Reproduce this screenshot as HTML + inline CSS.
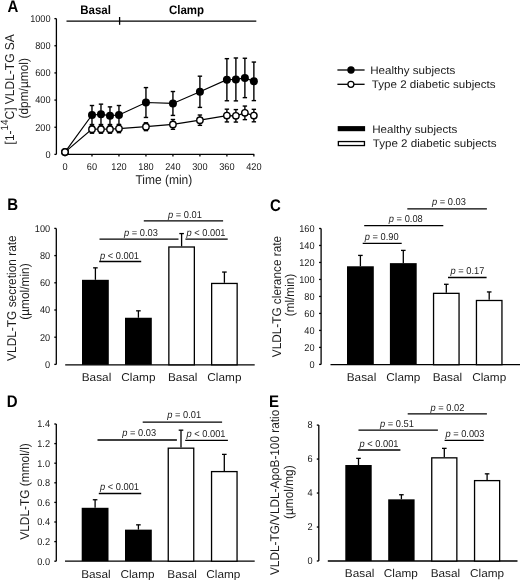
<!DOCTYPE html>
<html><head><meta charset="utf-8"><style>
html,body{margin:0;padding:0;background:#fff;}
body{width:520px;height:580px;overflow:hidden;}
svg{display:block;font-family:"Liberation Sans", sans-serif;text-rendering:geometricPrecision;}
</style></head><body>
<svg width="520" height="580" viewBox="0 0 520 580">
<defs><filter id="g" x="0" y="0" width="520" height="580" filterUnits="userSpaceOnUse"><feOffset dx="0" dy="0"/></filter></defs>
<g filter="url(#g)">
<rect width="520" height="580" fill="#fff"/>
<text transform="translate(7.60,11.60) scale(1,1.12)" font-size="15" text-anchor="start" font-weight="bold" font-style="normal" fill="#000" >A</text>
<line x1="66.50" y1="21.20" x2="256.30" y2="21.20" stroke="#000" stroke-width="1.3"/>
<line x1="119.60" y1="17.00" x2="119.60" y2="24.80" stroke="#000" stroke-width="1.3"/>
<text transform="translate(80.20,13.60) scale(1,1.07)" font-size="11.5" text-anchor="start" font-weight="bold" font-style="normal" fill="#000" >Basal</text>
<text transform="translate(168.90,13.60) scale(1,1.07)" font-size="11.5" text-anchor="start" font-weight="bold" font-style="normal" fill="#000" >Clamp</text>
<line x1="56.40" y1="18.60" x2="56.40" y2="154.40" stroke="#000" stroke-width="1.3"/>
<line x1="54.40" y1="154.40" x2="56.40" y2="154.40" stroke="#000" stroke-width="1.3"/>
<text transform="translate(50.60,157.71) scale(1,1.07)" font-size="9.2" text-anchor="end" font-weight="normal" font-style="normal" fill="#1a1a1a" >0</text>
<line x1="54.40" y1="127.24" x2="56.40" y2="127.24" stroke="#000" stroke-width="1.3"/>
<text transform="translate(50.60,130.55) scale(1,1.07)" font-size="9.2" text-anchor="end" font-weight="normal" font-style="normal" fill="#1a1a1a" >200</text>
<line x1="54.40" y1="100.08" x2="56.40" y2="100.08" stroke="#000" stroke-width="1.3"/>
<text transform="translate(50.60,103.39) scale(1,1.07)" font-size="9.2" text-anchor="end" font-weight="normal" font-style="normal" fill="#1a1a1a" >400</text>
<line x1="54.40" y1="72.92" x2="56.40" y2="72.92" stroke="#000" stroke-width="1.3"/>
<text transform="translate(50.60,76.23) scale(1,1.07)" font-size="9.2" text-anchor="end" font-weight="normal" font-style="normal" fill="#1a1a1a" >600</text>
<line x1="54.40" y1="45.76" x2="56.40" y2="45.76" stroke="#000" stroke-width="1.3"/>
<text transform="translate(50.60,49.07) scale(1,1.07)" font-size="9.2" text-anchor="end" font-weight="normal" font-style="normal" fill="#1a1a1a" >800</text>
<line x1="54.40" y1="18.60" x2="56.40" y2="18.60" stroke="#000" stroke-width="1.3"/>
<text transform="translate(50.60,21.91) scale(1,1.07)" font-size="9.2" text-anchor="end" font-weight="normal" font-style="normal" fill="#1a1a1a" >1000</text>
<line x1="64.70" y1="154.30" x2="254.20" y2="154.30" stroke="#000" stroke-width="1.3"/>
<line x1="65.00" y1="154.30" x2="65.00" y2="156.60" stroke="#000" stroke-width="1.3"/>
<text transform="translate(65.00,169.70) scale(1,1.07)" font-size="9.2" text-anchor="middle" font-weight="normal" font-style="normal" fill="#1a1a1a" >0</text>
<line x1="91.98" y1="154.30" x2="91.98" y2="156.60" stroke="#000" stroke-width="1.3"/>
<text transform="translate(91.98,169.70) scale(1,1.07)" font-size="9.2" text-anchor="middle" font-weight="normal" font-style="normal" fill="#1a1a1a" >60</text>
<line x1="118.96" y1="154.30" x2="118.96" y2="156.60" stroke="#000" stroke-width="1.3"/>
<text transform="translate(118.96,169.70) scale(1,1.07)" font-size="9.2" text-anchor="middle" font-weight="normal" font-style="normal" fill="#1a1a1a" >120</text>
<line x1="145.95" y1="154.30" x2="145.95" y2="156.60" stroke="#000" stroke-width="1.3"/>
<text transform="translate(145.95,169.70) scale(1,1.07)" font-size="9.2" text-anchor="middle" font-weight="normal" font-style="normal" fill="#1a1a1a" >180</text>
<line x1="172.93" y1="154.30" x2="172.93" y2="156.60" stroke="#000" stroke-width="1.3"/>
<text transform="translate(172.93,169.70) scale(1,1.07)" font-size="9.2" text-anchor="middle" font-weight="normal" font-style="normal" fill="#1a1a1a" >240</text>
<line x1="199.91" y1="154.30" x2="199.91" y2="156.60" stroke="#000" stroke-width="1.3"/>
<text transform="translate(199.91,169.70) scale(1,1.07)" font-size="9.2" text-anchor="middle" font-weight="normal" font-style="normal" fill="#1a1a1a" >300</text>
<line x1="226.89" y1="154.30" x2="226.89" y2="156.60" stroke="#000" stroke-width="1.3"/>
<text transform="translate(226.89,169.70) scale(1,1.07)" font-size="9.2" text-anchor="middle" font-weight="normal" font-style="normal" fill="#1a1a1a" >360</text>
<line x1="253.87" y1="154.30" x2="253.87" y2="156.60" stroke="#000" stroke-width="1.3"/>
<text transform="translate(253.87,169.70) scale(1,1.07)" font-size="9.2" text-anchor="middle" font-weight="normal" font-style="normal" fill="#1a1a1a" >420</text>
<text transform="translate(135.40,184.30) scale(1,1.07)" font-size="12.0" text-anchor="start" font-weight="normal" font-style="normal" fill="#1a1a1a" >Time (min)</text>
<line x1="91.98" y1="124.52" x2="91.98" y2="105.51" stroke="#000" stroke-width="1.4"/>
<line x1="89.78" y1="124.52" x2="94.18" y2="124.52" stroke="#000" stroke-width="1.4"/>
<line x1="89.78" y1="105.51" x2="94.18" y2="105.51" stroke="#000" stroke-width="1.4"/>
<line x1="100.98" y1="124.52" x2="100.98" y2="104.15" stroke="#000" stroke-width="1.4"/>
<line x1="98.78" y1="124.52" x2="103.18" y2="124.52" stroke="#000" stroke-width="1.4"/>
<line x1="98.78" y1="104.15" x2="103.18" y2="104.15" stroke="#000" stroke-width="1.4"/>
<line x1="109.97" y1="124.52" x2="109.97" y2="106.87" stroke="#000" stroke-width="1.4"/>
<line x1="107.77" y1="124.52" x2="112.17" y2="124.52" stroke="#000" stroke-width="1.4"/>
<line x1="107.77" y1="106.87" x2="112.17" y2="106.87" stroke="#000" stroke-width="1.4"/>
<line x1="118.96" y1="124.52" x2="118.96" y2="105.51" stroke="#000" stroke-width="1.4"/>
<line x1="116.76" y1="124.52" x2="121.16" y2="124.52" stroke="#000" stroke-width="1.4"/>
<line x1="116.76" y1="105.51" x2="121.16" y2="105.51" stroke="#000" stroke-width="1.4"/>
<line x1="145.95" y1="117.46" x2="145.95" y2="87.59" stroke="#000" stroke-width="1.4"/>
<line x1="143.75" y1="117.46" x2="148.15" y2="117.46" stroke="#000" stroke-width="1.4"/>
<line x1="143.75" y1="87.59" x2="148.15" y2="87.59" stroke="#000" stroke-width="1.4"/>
<line x1="172.93" y1="115.43" x2="172.93" y2="91.52" stroke="#000" stroke-width="1.4"/>
<line x1="170.73" y1="115.43" x2="175.13" y2="115.43" stroke="#000" stroke-width="1.4"/>
<line x1="170.73" y1="91.52" x2="175.13" y2="91.52" stroke="#000" stroke-width="1.4"/>
<line x1="199.91" y1="107.41" x2="199.91" y2="76.18" stroke="#000" stroke-width="1.4"/>
<line x1="197.71" y1="107.41" x2="202.11" y2="107.41" stroke="#000" stroke-width="1.4"/>
<line x1="197.71" y1="76.18" x2="202.11" y2="76.18" stroke="#000" stroke-width="1.4"/>
<line x1="226.89" y1="100.76" x2="226.89" y2="58.66" stroke="#000" stroke-width="1.4"/>
<line x1="224.69" y1="100.76" x2="229.09" y2="100.76" stroke="#000" stroke-width="1.4"/>
<line x1="224.69" y1="58.66" x2="229.09" y2="58.66" stroke="#000" stroke-width="1.4"/>
<line x1="235.89" y1="100.89" x2="235.89" y2="57.98" stroke="#000" stroke-width="1.4"/>
<line x1="233.69" y1="100.89" x2="238.09" y2="100.89" stroke="#000" stroke-width="1.4"/>
<line x1="233.69" y1="57.98" x2="238.09" y2="57.98" stroke="#000" stroke-width="1.4"/>
<line x1="244.88" y1="97.64" x2="244.88" y2="58.25" stroke="#000" stroke-width="1.4"/>
<line x1="242.68" y1="97.64" x2="247.08" y2="97.64" stroke="#000" stroke-width="1.4"/>
<line x1="242.68" y1="58.25" x2="247.08" y2="58.25" stroke="#000" stroke-width="1.4"/>
<line x1="253.87" y1="100.62" x2="253.87" y2="62.06" stroke="#000" stroke-width="1.4"/>
<line x1="251.67" y1="100.62" x2="256.07" y2="100.62" stroke="#000" stroke-width="1.4"/>
<line x1="251.67" y1="62.06" x2="256.07" y2="62.06" stroke="#000" stroke-width="1.4"/>
<line x1="91.98" y1="133.22" x2="91.98" y2="125.07" stroke="#000" stroke-width="1.4"/>
<line x1="89.78" y1="133.22" x2="94.18" y2="133.22" stroke="#000" stroke-width="1.4"/>
<line x1="89.78" y1="125.07" x2="94.18" y2="125.07" stroke="#000" stroke-width="1.4"/>
<line x1="100.98" y1="133.22" x2="100.98" y2="125.07" stroke="#000" stroke-width="1.4"/>
<line x1="98.78" y1="133.22" x2="103.18" y2="133.22" stroke="#000" stroke-width="1.4"/>
<line x1="98.78" y1="125.07" x2="103.18" y2="125.07" stroke="#000" stroke-width="1.4"/>
<line x1="109.97" y1="133.22" x2="109.97" y2="125.07" stroke="#000" stroke-width="1.4"/>
<line x1="107.77" y1="133.22" x2="112.17" y2="133.22" stroke="#000" stroke-width="1.4"/>
<line x1="107.77" y1="125.07" x2="112.17" y2="125.07" stroke="#000" stroke-width="1.4"/>
<line x1="118.96" y1="132.67" x2="118.96" y2="124.52" stroke="#000" stroke-width="1.4"/>
<line x1="116.76" y1="132.67" x2="121.16" y2="132.67" stroke="#000" stroke-width="1.4"/>
<line x1="116.76" y1="124.52" x2="121.16" y2="124.52" stroke="#000" stroke-width="1.4"/>
<line x1="145.95" y1="130.63" x2="145.95" y2="122.76" stroke="#000" stroke-width="1.4"/>
<line x1="143.75" y1="130.63" x2="148.15" y2="130.63" stroke="#000" stroke-width="1.4"/>
<line x1="143.75" y1="122.76" x2="148.15" y2="122.76" stroke="#000" stroke-width="1.4"/>
<line x1="172.93" y1="129.28" x2="172.93" y2="119.50" stroke="#000" stroke-width="1.4"/>
<line x1="170.73" y1="129.28" x2="175.13" y2="129.28" stroke="#000" stroke-width="1.4"/>
<line x1="170.73" y1="119.50" x2="175.13" y2="119.50" stroke="#000" stroke-width="1.4"/>
<line x1="199.91" y1="125.34" x2="199.91" y2="115.02" stroke="#000" stroke-width="1.4"/>
<line x1="197.71" y1="125.34" x2="202.11" y2="125.34" stroke="#000" stroke-width="1.4"/>
<line x1="197.71" y1="115.02" x2="202.11" y2="115.02" stroke="#000" stroke-width="1.4"/>
<line x1="226.89" y1="121.94" x2="226.89" y2="109.18" stroke="#000" stroke-width="1.4"/>
<line x1="224.69" y1="121.94" x2="229.09" y2="121.94" stroke="#000" stroke-width="1.4"/>
<line x1="224.69" y1="109.18" x2="229.09" y2="109.18" stroke="#000" stroke-width="1.4"/>
<line x1="235.89" y1="122.08" x2="235.89" y2="109.59" stroke="#000" stroke-width="1.4"/>
<line x1="233.69" y1="122.08" x2="238.09" y2="122.08" stroke="#000" stroke-width="1.4"/>
<line x1="233.69" y1="109.59" x2="238.09" y2="109.59" stroke="#000" stroke-width="1.4"/>
<line x1="244.88" y1="119.64" x2="244.88" y2="106.06" stroke="#000" stroke-width="1.4"/>
<line x1="242.68" y1="119.64" x2="247.08" y2="119.64" stroke="#000" stroke-width="1.4"/>
<line x1="242.68" y1="106.06" x2="247.08" y2="106.06" stroke="#000" stroke-width="1.4"/>
<line x1="253.87" y1="121.81" x2="253.87" y2="109.31" stroke="#000" stroke-width="1.4"/>
<line x1="251.67" y1="121.81" x2="256.07" y2="121.81" stroke="#000" stroke-width="1.4"/>
<line x1="251.67" y1="109.31" x2="256.07" y2="109.31" stroke="#000" stroke-width="1.4"/>
<polyline points="65.00,152.09 91.98,115.02 100.98,114.34 109.97,115.70 118.96,115.02 145.95,102.52 172.93,103.47 199.91,91.80 226.89,79.71 235.89,79.44 244.88,77.94 253.87,81.34" fill="none" stroke="#000" stroke-width="1.2"/>
<polyline points="65.00,152.09 91.98,129.14 100.98,129.14 109.97,129.14 118.96,128.60 145.95,126.70 172.93,124.39 199.91,120.18 226.89,115.56 235.89,115.83 244.88,112.85 253.87,115.56" fill="none" stroke="#000" stroke-width="1.2"/>
<circle cx="65.00" cy="152.09" r="4.0" fill="#000"/>
<circle cx="91.98" cy="115.02" r="4.0" fill="#000"/>
<circle cx="100.98" cy="114.34" r="4.0" fill="#000"/>
<circle cx="109.97" cy="115.70" r="4.0" fill="#000"/>
<circle cx="118.96" cy="115.02" r="4.0" fill="#000"/>
<circle cx="145.95" cy="102.52" r="4.0" fill="#000"/>
<circle cx="172.93" cy="103.47" r="4.0" fill="#000"/>
<circle cx="199.91" cy="91.80" r="4.0" fill="#000"/>
<circle cx="226.89" cy="79.71" r="4.0" fill="#000"/>
<circle cx="235.89" cy="79.44" r="4.0" fill="#000"/>
<circle cx="244.88" cy="77.94" r="4.0" fill="#000"/>
<circle cx="253.87" cy="81.34" r="4.0" fill="#000"/>
<circle cx="65.00" cy="152.09" r="3.2" fill="#fff" stroke="#000" stroke-width="1.4"/>
<circle cx="91.98" cy="129.14" r="3.2" fill="#fff" stroke="#000" stroke-width="1.4"/>
<circle cx="100.98" cy="129.14" r="3.2" fill="#fff" stroke="#000" stroke-width="1.4"/>
<circle cx="109.97" cy="129.14" r="3.2" fill="#fff" stroke="#000" stroke-width="1.4"/>
<circle cx="118.96" cy="128.60" r="3.2" fill="#fff" stroke="#000" stroke-width="1.4"/>
<circle cx="145.95" cy="126.70" r="3.2" fill="#fff" stroke="#000" stroke-width="1.4"/>
<circle cx="172.93" cy="124.39" r="3.2" fill="#fff" stroke="#000" stroke-width="1.4"/>
<circle cx="199.91" cy="120.18" r="3.2" fill="#fff" stroke="#000" stroke-width="1.4"/>
<circle cx="226.89" cy="115.56" r="3.2" fill="#fff" stroke="#000" stroke-width="1.4"/>
<circle cx="235.89" cy="115.83" r="3.2" fill="#fff" stroke="#000" stroke-width="1.4"/>
<circle cx="244.88" cy="112.85" r="3.2" fill="#fff" stroke="#000" stroke-width="1.4"/>
<circle cx="253.87" cy="115.56" r="3.2" fill="#fff" stroke="#000" stroke-width="1.4"/>
<text transform="translate(14.4,89.3) rotate(-90) scale(1,1.07)" font-size="12" text-anchor="middle" fill="#1a1a1a">[1-<tspan font-size="9.8" dy="-6.2">14</tspan><tspan dy="6.2">C] VLDL-TG SA</tspan></text>
<text transform="translate(28.40,88.30) rotate(-90) scale(1,1.07)" x="0" y="0" font-size="11.9" text-anchor="middle" fill="#1a1a1a">(dpm/µmol)</text>
<line x1="337.40" y1="70.00" x2="364.60" y2="70.00" stroke="#000" stroke-width="1.3"/>
<circle cx="351.0" cy="70.0" r="3.7" fill="#000"/>
<text transform="translate(370.20,73.50) scale(1,0.95)" font-size="11.6" text-anchor="start" font-weight="normal" font-style="normal" fill="#1a1a1a" >Healthy subjects</text>
<line x1="337.40" y1="84.30" x2="364.60" y2="84.30" stroke="#000" stroke-width="1.3"/>
<circle cx="350.9" cy="84.3" r="3.0" fill="#fff" stroke="#000" stroke-width="1.3"/>
<text transform="translate(371.80,88.20) scale(1,0.95)" font-size="11.6" text-anchor="start" font-weight="normal" font-style="normal" fill="#1a1a1a" >Type 2 diabetic subjects</text>
<rect x="337.7" y="126.1" width="27.4" height="5.1" fill="#000"/>
<text transform="translate(372.20,132.50) scale(1,0.95)" font-size="11.6" text-anchor="start" font-weight="normal" font-style="normal" fill="#1a1a1a" >Healthy subjects</text>
<rect x="338.35" y="141.55" width="26.1" height="4.0" fill="#fff" stroke="#000" stroke-width="1.3"/>
<text transform="translate(372.70,147.40) scale(1,0.95)" font-size="11.6" text-anchor="start" font-weight="normal" font-style="normal" fill="#1a1a1a" >Type 2 diabetic subjects</text>
<text transform="translate(7.20,209.60) scale(1,1.12)" font-size="15" text-anchor="start" font-weight="bold" font-style="normal" fill="#000" >B</text>
<line x1="56.30" y1="228.40" x2="56.30" y2="364.40" stroke="#000" stroke-width="1.3"/>
<line x1="54.30" y1="364.40" x2="56.30" y2="364.40" stroke="#000" stroke-width="1.3"/>
<text transform="translate(50.20,367.71) scale(1,1.07)" font-size="9.2" text-anchor="end" font-weight="normal" font-style="normal" fill="#1a1a1a" >0</text>
<line x1="54.30" y1="337.20" x2="56.30" y2="337.20" stroke="#000" stroke-width="1.3"/>
<text transform="translate(50.20,340.51) scale(1,1.07)" font-size="9.2" text-anchor="end" font-weight="normal" font-style="normal" fill="#1a1a1a" >20</text>
<line x1="54.30" y1="310.00" x2="56.30" y2="310.00" stroke="#000" stroke-width="1.3"/>
<text transform="translate(50.20,313.31) scale(1,1.07)" font-size="9.2" text-anchor="end" font-weight="normal" font-style="normal" fill="#1a1a1a" >40</text>
<line x1="54.30" y1="282.80" x2="56.30" y2="282.80" stroke="#000" stroke-width="1.3"/>
<text transform="translate(50.20,286.11) scale(1,1.07)" font-size="9.2" text-anchor="end" font-weight="normal" font-style="normal" fill="#1a1a1a" >60</text>
<line x1="54.30" y1="255.60" x2="56.30" y2="255.60" stroke="#000" stroke-width="1.3"/>
<text transform="translate(50.20,258.91) scale(1,1.07)" font-size="9.2" text-anchor="end" font-weight="normal" font-style="normal" fill="#1a1a1a" >80</text>
<line x1="54.30" y1="228.40" x2="56.30" y2="228.40" stroke="#000" stroke-width="1.3"/>
<text transform="translate(50.20,231.71) scale(1,1.07)" font-size="9.2" text-anchor="end" font-weight="normal" font-style="normal" fill="#1a1a1a" >100</text>
<line x1="65.20" y1="364.80" x2="254.70" y2="364.80" stroke="#000" stroke-width="1.3"/>
<line x1="95.40" y1="279.81" x2="95.40" y2="267.84" stroke="#000" stroke-width="1.3"/>
<line x1="93.10" y1="267.84" x2="97.70" y2="267.84" stroke="#000" stroke-width="1.3"/>
<rect x="82.00" y="279.81" width="26.80" height="84.99" fill="#000"/>
<line x1="138.40" y1="317.75" x2="138.40" y2="310.82" stroke="#000" stroke-width="1.3"/>
<line x1="136.10" y1="310.82" x2="140.70" y2="310.82" stroke="#000" stroke-width="1.3"/>
<rect x="125.00" y="317.75" width="26.80" height="47.05" fill="#000"/>
<line x1="181.60" y1="246.35" x2="181.60" y2="233.57" stroke="#000" stroke-width="1.3"/>
<line x1="179.30" y1="233.57" x2="183.90" y2="233.57" stroke="#000" stroke-width="1.3"/>
<rect x="168.85" y="247.00" width="25.50" height="117.80" fill="#fff" stroke="#000" stroke-width="1.3"/>
<line x1="224.40" y1="282.80" x2="224.40" y2="272.06" stroke="#000" stroke-width="1.3"/>
<line x1="222.10" y1="272.06" x2="226.70" y2="272.06" stroke="#000" stroke-width="1.3"/>
<rect x="211.65" y="283.45" width="25.50" height="81.35" fill="#fff" stroke="#000" stroke-width="1.3"/>
<text transform="translate(96.50,380.70) scale(1,0.96)" font-size="11.8" text-anchor="middle" font-weight="normal" font-style="normal" fill="#1a1a1a" >Basal</text>
<text transform="translate(138.40,380.70) scale(1,0.96)" font-size="11.8" text-anchor="middle" font-weight="normal" font-style="normal" fill="#1a1a1a" >Clamp</text>
<text transform="translate(182.70,380.70) scale(1,0.96)" font-size="11.8" text-anchor="middle" font-weight="normal" font-style="normal" fill="#1a1a1a" >Basal</text>
<text transform="translate(224.40,380.70) scale(1,0.96)" font-size="11.8" text-anchor="middle" font-weight="normal" font-style="normal" fill="#1a1a1a" >Clamp</text>
<line x1="99.20" y1="261.50" x2="141.20" y2="261.50" stroke="#000" stroke-width="1.3"/>
<text transform="translate(119.50,258.70) scale(1,1.07)" font-size="9.3" text-anchor="middle" fill="#1a1a1a"><tspan font-style="italic">p</tspan> &lt; 0.001</text>
<line x1="99.50" y1="239.20" x2="178.50" y2="239.20" stroke="#000" stroke-width="1.3"/>
<text transform="translate(141.00,235.80) scale(1,1.07)" font-size="9.3" text-anchor="middle" fill="#1a1a1a"><tspan font-style="italic">p</tspan> = 0.03</text>
<line x1="185.40" y1="239.20" x2="227.70" y2="239.20" stroke="#000" stroke-width="1.3"/>
<text transform="translate(206.00,235.80) scale(1,1.07)" font-size="9.3" text-anchor="middle" fill="#1a1a1a"><tspan font-style="italic">p</tspan> &lt; 0.001</text>
<line x1="143.80" y1="220.80" x2="223.10" y2="220.80" stroke="#000" stroke-width="1.3"/>
<text transform="translate(185.00,217.80) scale(1,1.07)" font-size="9.3" text-anchor="middle" fill="#1a1a1a"><tspan font-style="italic">p</tspan> = 0.01</text>
<text transform="translate(15.80,298.10) rotate(-90) scale(1,1.07)" x="0" y="0" font-size="11.9" text-anchor="middle" fill="#1a1a1a">VLDL-TG secretion rate</text>
<text transform="translate(29.40,291.60) rotate(-90) scale(1,1.07)" x="0" y="0" font-size="11.9" text-anchor="middle" fill="#1a1a1a">(µmol/min)</text>
<text transform="translate(269.90,210.50) scale(1,1.12)" font-size="15" text-anchor="start" font-weight="bold" font-style="normal" fill="#000" >C</text>
<line x1="321.10" y1="228.50" x2="321.10" y2="364.40" stroke="#000" stroke-width="1.3"/>
<line x1="319.10" y1="364.40" x2="321.10" y2="364.40" stroke="#000" stroke-width="1.3"/>
<text transform="translate(314.60,367.71) scale(1,1.07)" font-size="9.2" text-anchor="end" font-weight="normal" font-style="normal" fill="#1a1a1a" >0</text>
<line x1="319.10" y1="347.41" x2="321.10" y2="347.41" stroke="#000" stroke-width="1.3"/>
<text transform="translate(314.60,350.72) scale(1,1.07)" font-size="9.2" text-anchor="end" font-weight="normal" font-style="normal" fill="#1a1a1a" >20</text>
<line x1="319.10" y1="330.42" x2="321.10" y2="330.42" stroke="#000" stroke-width="1.3"/>
<text transform="translate(314.60,333.73) scale(1,1.07)" font-size="9.2" text-anchor="end" font-weight="normal" font-style="normal" fill="#1a1a1a" >40</text>
<line x1="319.10" y1="313.43" x2="321.10" y2="313.43" stroke="#000" stroke-width="1.3"/>
<text transform="translate(314.60,316.74) scale(1,1.07)" font-size="9.2" text-anchor="end" font-weight="normal" font-style="normal" fill="#1a1a1a" >60</text>
<line x1="319.10" y1="296.44" x2="321.10" y2="296.44" stroke="#000" stroke-width="1.3"/>
<text transform="translate(314.60,299.75) scale(1,1.07)" font-size="9.2" text-anchor="end" font-weight="normal" font-style="normal" fill="#1a1a1a" >80</text>
<line x1="319.10" y1="279.45" x2="321.10" y2="279.45" stroke="#000" stroke-width="1.3"/>
<text transform="translate(314.60,282.76) scale(1,1.07)" font-size="9.2" text-anchor="end" font-weight="normal" font-style="normal" fill="#1a1a1a" >100</text>
<line x1="319.10" y1="262.46" x2="321.10" y2="262.46" stroke="#000" stroke-width="1.3"/>
<text transform="translate(314.60,265.77) scale(1,1.07)" font-size="9.2" text-anchor="end" font-weight="normal" font-style="normal" fill="#1a1a1a" >120</text>
<line x1="319.10" y1="245.47" x2="321.10" y2="245.47" stroke="#000" stroke-width="1.3"/>
<text transform="translate(314.60,248.78) scale(1,1.07)" font-size="9.2" text-anchor="end" font-weight="normal" font-style="normal" fill="#1a1a1a" >140</text>
<line x1="319.10" y1="228.48" x2="321.10" y2="228.48" stroke="#000" stroke-width="1.3"/>
<text transform="translate(314.60,231.79) scale(1,1.07)" font-size="9.2" text-anchor="end" font-weight="normal" font-style="normal" fill="#1a1a1a" >160</text>
<line x1="330.50" y1="364.70" x2="520.00" y2="364.70" stroke="#000" stroke-width="1.3"/>
<line x1="360.40" y1="266.28" x2="360.40" y2="255.41" stroke="#000" stroke-width="1.3"/>
<line x1="358.10" y1="255.41" x2="362.70" y2="255.41" stroke="#000" stroke-width="1.3"/>
<rect x="347.00" y="266.28" width="26.80" height="98.42" fill="#000"/>
<line x1="403.30" y1="263.14" x2="403.30" y2="250.40" stroke="#000" stroke-width="1.3"/>
<line x1="401.00" y1="250.40" x2="405.60" y2="250.40" stroke="#000" stroke-width="1.3"/>
<rect x="389.90" y="263.14" width="26.80" height="101.56" fill="#000"/>
<line x1="446.30" y1="292.70" x2="446.30" y2="284.29" stroke="#000" stroke-width="1.3"/>
<line x1="444.00" y1="284.29" x2="448.60" y2="284.29" stroke="#000" stroke-width="1.3"/>
<rect x="433.55" y="293.35" width="25.50" height="71.35" fill="#fff" stroke="#000" stroke-width="1.3"/>
<line x1="489.20" y1="299.84" x2="489.20" y2="291.94" stroke="#000" stroke-width="1.3"/>
<line x1="486.90" y1="291.94" x2="491.50" y2="291.94" stroke="#000" stroke-width="1.3"/>
<rect x="476.45" y="300.49" width="25.50" height="64.21" fill="#fff" stroke="#000" stroke-width="1.3"/>
<text transform="translate(361.50,381.40) scale(1,0.96)" font-size="11.8" text-anchor="middle" font-weight="normal" font-style="normal" fill="#1a1a1a" >Basal</text>
<text transform="translate(403.30,381.40) scale(1,0.96)" font-size="11.8" text-anchor="middle" font-weight="normal" font-style="normal" fill="#1a1a1a" >Clamp</text>
<text transform="translate(447.40,381.40) scale(1,0.96)" font-size="11.8" text-anchor="middle" font-weight="normal" font-style="normal" fill="#1a1a1a" >Basal</text>
<text transform="translate(489.20,381.40) scale(1,0.96)" font-size="11.8" text-anchor="middle" font-weight="normal" font-style="normal" fill="#1a1a1a" >Clamp</text>
<line x1="362.70" y1="243.30" x2="401.70" y2="243.30" stroke="#000" stroke-width="1.3"/>
<text transform="translate(381.70,239.50) scale(1,1.07)" font-size="9.3" text-anchor="middle" fill="#1a1a1a"><tspan font-style="italic">p</tspan> = 0.90</text>
<line x1="364.20" y1="225.60" x2="443.30" y2="225.60" stroke="#000" stroke-width="1.3"/>
<text transform="translate(405.80,221.60) scale(1,1.07)" font-size="9.3" text-anchor="middle" fill="#1a1a1a"><tspan font-style="italic">p</tspan> = 0.08</text>
<line x1="407.30" y1="208.80" x2="486.90" y2="208.80" stroke="#000" stroke-width="1.3"/>
<text transform="translate(449.00,204.70) scale(1,1.07)" font-size="9.3" text-anchor="middle" fill="#1a1a1a"><tspan font-style="italic">p</tspan> = 0.03</text>
<line x1="448.00" y1="277.50" x2="486.60" y2="277.50" stroke="#000" stroke-width="1.3"/>
<text transform="translate(467.50,273.50) scale(1,1.07)" font-size="9.3" text-anchor="middle" fill="#1a1a1a"><tspan font-style="italic">p</tspan> = 0.17</text>
<text transform="translate(280.70,296.60) rotate(-90) scale(1,1.07)" x="0" y="0" font-size="11.8" text-anchor="middle" fill="#1a1a1a">VLDL-TG clerance rate</text>
<text transform="translate(294.40,295.00) rotate(-90) scale(1,1.07)" x="0" y="0" font-size="11.8" text-anchor="middle" fill="#1a1a1a">(ml/min)</text>
<text transform="translate(6.70,407.00) scale(1,1.12)" font-size="15" text-anchor="start" font-weight="bold" font-style="normal" fill="#000" >D</text>
<line x1="56.30" y1="424.00" x2="56.30" y2="561.20" stroke="#000" stroke-width="1.3"/>
<line x1="54.30" y1="561.20" x2="56.30" y2="561.20" stroke="#000" stroke-width="1.3"/>
<text transform="translate(50.00,564.51) scale(1,1.07)" font-size="9.2" text-anchor="end" font-weight="normal" font-style="normal" fill="#1a1a1a" >0.0</text>
<line x1="54.30" y1="541.60" x2="56.30" y2="541.60" stroke="#000" stroke-width="1.3"/>
<text transform="translate(50.00,544.91) scale(1,1.07)" font-size="9.2" text-anchor="end" font-weight="normal" font-style="normal" fill="#1a1a1a" >0.2</text>
<line x1="54.30" y1="522.00" x2="56.30" y2="522.00" stroke="#000" stroke-width="1.3"/>
<text transform="translate(50.00,525.31) scale(1,1.07)" font-size="9.2" text-anchor="end" font-weight="normal" font-style="normal" fill="#1a1a1a" >0.4</text>
<line x1="54.30" y1="502.40" x2="56.30" y2="502.40" stroke="#000" stroke-width="1.3"/>
<text transform="translate(50.00,505.71) scale(1,1.07)" font-size="9.2" text-anchor="end" font-weight="normal" font-style="normal" fill="#1a1a1a" >0.6</text>
<line x1="54.30" y1="482.80" x2="56.30" y2="482.80" stroke="#000" stroke-width="1.3"/>
<text transform="translate(50.00,486.11) scale(1,1.07)" font-size="9.2" text-anchor="end" font-weight="normal" font-style="normal" fill="#1a1a1a" >0.8</text>
<line x1="54.30" y1="463.20" x2="56.30" y2="463.20" stroke="#000" stroke-width="1.3"/>
<text transform="translate(50.00,466.51) scale(1,1.07)" font-size="9.2" text-anchor="end" font-weight="normal" font-style="normal" fill="#1a1a1a" >1.0</text>
<line x1="54.30" y1="443.60" x2="56.30" y2="443.60" stroke="#000" stroke-width="1.3"/>
<text transform="translate(50.00,446.91) scale(1,1.07)" font-size="9.2" text-anchor="end" font-weight="normal" font-style="normal" fill="#1a1a1a" >1.2</text>
<line x1="54.30" y1="424.00" x2="56.30" y2="424.00" stroke="#000" stroke-width="1.3"/>
<text transform="translate(50.00,427.31) scale(1,1.07)" font-size="9.2" text-anchor="end" font-weight="normal" font-style="normal" fill="#1a1a1a" >1.4</text>
<line x1="65.00" y1="561.20" x2="254.70" y2="561.20" stroke="#000" stroke-width="1.3"/>
<line x1="95.10" y1="507.79" x2="95.10" y2="499.75" stroke="#000" stroke-width="1.3"/>
<line x1="92.80" y1="499.75" x2="97.40" y2="499.75" stroke="#000" stroke-width="1.3"/>
<rect x="81.70" y="507.79" width="26.80" height="53.41" fill="#000"/>
<line x1="138.40" y1="529.64" x2="138.40" y2="524.84" stroke="#000" stroke-width="1.3"/>
<line x1="136.10" y1="524.84" x2="140.70" y2="524.84" stroke="#000" stroke-width="1.3"/>
<rect x="125.00" y="529.64" width="26.80" height="31.56" fill="#000"/>
<line x1="181.00" y1="447.52" x2="181.00" y2="430.17" stroke="#000" stroke-width="1.3"/>
<line x1="178.70" y1="430.17" x2="183.30" y2="430.17" stroke="#000" stroke-width="1.3"/>
<rect x="168.25" y="448.17" width="25.50" height="113.03" fill="#fff" stroke="#000" stroke-width="1.3"/>
<line x1="224.30" y1="470.94" x2="224.30" y2="454.38" stroke="#000" stroke-width="1.3"/>
<line x1="222.00" y1="454.38" x2="226.60" y2="454.38" stroke="#000" stroke-width="1.3"/>
<rect x="211.55" y="471.59" width="25.50" height="89.61" fill="#fff" stroke="#000" stroke-width="1.3"/>
<text transform="translate(95.90,578.00) scale(1,0.96)" font-size="11.8" text-anchor="middle" font-weight="normal" font-style="normal" fill="#1a1a1a" >Basal</text>
<text transform="translate(137.50,578.00) scale(1,0.96)" font-size="11.8" text-anchor="middle" font-weight="normal" font-style="normal" fill="#1a1a1a" >Clamp</text>
<text transform="translate(182.10,578.00) scale(1,0.96)" font-size="11.8" text-anchor="middle" font-weight="normal" font-style="normal" fill="#1a1a1a" >Basal</text>
<text transform="translate(223.30,578.00) scale(1,0.96)" font-size="11.8" text-anchor="middle" font-weight="normal" font-style="normal" fill="#1a1a1a" >Clamp</text>
<line x1="98.80" y1="493.50" x2="141.20" y2="493.50" stroke="#000" stroke-width="1.3"/>
<text transform="translate(119.50,489.70) scale(1,1.07)" font-size="9.3" text-anchor="middle" fill="#1a1a1a"><tspan font-style="italic">p</tspan> &lt; 0.001</text>
<line x1="97.50" y1="440.00" x2="176.90" y2="440.00" stroke="#000" stroke-width="1.3"/>
<text transform="translate(139.20,436.30) scale(1,1.07)" font-size="9.3" text-anchor="middle" fill="#1a1a1a"><tspan font-style="italic">p</tspan> = 0.03</text>
<line x1="185.20" y1="440.40" x2="227.90" y2="440.40" stroke="#000" stroke-width="1.3"/>
<text transform="translate(206.00,436.90) scale(1,1.07)" font-size="9.3" text-anchor="middle" fill="#1a1a1a"><tspan font-style="italic">p</tspan> &lt; 0.001</text>
<line x1="142.70" y1="422.10" x2="222.10" y2="422.10" stroke="#000" stroke-width="1.3"/>
<text transform="translate(184.20,418.40) scale(1,1.07)" font-size="9.3" text-anchor="middle" fill="#1a1a1a"><tspan font-style="italic">p</tspan> = 0.01</text>
<text transform="translate(28.50,491.50) rotate(-90) scale(1,1.07)" x="0" y="0" font-size="11.9" text-anchor="middle" fill="#1a1a1a">VLDL-TG (mmol/l)</text>
<text transform="translate(269.00,406.70) scale(1,1.12)" font-size="15" text-anchor="start" font-weight="bold" font-style="normal" fill="#000" >E</text>
<line x1="318.80" y1="425.10" x2="318.80" y2="561.00" stroke="#000" stroke-width="1.3"/>
<line x1="316.80" y1="561.00" x2="318.80" y2="561.00" stroke="#000" stroke-width="1.3"/>
<text transform="translate(312.60,564.31) scale(1,1.07)" font-size="9.2" text-anchor="end" font-weight="normal" font-style="normal" fill="#1a1a1a" >0</text>
<line x1="316.80" y1="527.02" x2="318.80" y2="527.02" stroke="#000" stroke-width="1.3"/>
<text transform="translate(312.60,530.33) scale(1,1.07)" font-size="9.2" text-anchor="end" font-weight="normal" font-style="normal" fill="#1a1a1a" >2</text>
<line x1="316.80" y1="493.04" x2="318.80" y2="493.04" stroke="#000" stroke-width="1.3"/>
<text transform="translate(312.60,496.35) scale(1,1.07)" font-size="9.2" text-anchor="end" font-weight="normal" font-style="normal" fill="#1a1a1a" >4</text>
<line x1="316.80" y1="459.06" x2="318.80" y2="459.06" stroke="#000" stroke-width="1.3"/>
<text transform="translate(312.60,462.37) scale(1,1.07)" font-size="9.2" text-anchor="end" font-weight="normal" font-style="normal" fill="#1a1a1a" >6</text>
<line x1="316.80" y1="425.08" x2="318.80" y2="425.08" stroke="#000" stroke-width="1.3"/>
<text transform="translate(312.60,428.39) scale(1,1.07)" font-size="9.2" text-anchor="end" font-weight="normal" font-style="normal" fill="#1a1a1a" >8</text>
<line x1="327.80" y1="561.00" x2="517.50" y2="561.00" stroke="#000" stroke-width="1.3"/>
<line x1="358.50" y1="465.01" x2="358.50" y2="458.38" stroke="#000" stroke-width="1.3"/>
<line x1="356.20" y1="458.38" x2="360.80" y2="458.38" stroke="#000" stroke-width="1.3"/>
<rect x="345.30" y="465.01" width="26.40" height="95.99" fill="#000"/>
<line x1="401.40" y1="499.33" x2="401.40" y2="494.74" stroke="#000" stroke-width="1.3"/>
<line x1="399.10" y1="494.74" x2="403.70" y2="494.74" stroke="#000" stroke-width="1.3"/>
<rect x="388.20" y="499.33" width="26.40" height="61.67" fill="#000"/>
<line x1="444.30" y1="457.19" x2="444.30" y2="448.36" stroke="#000" stroke-width="1.3"/>
<line x1="442.00" y1="448.36" x2="446.60" y2="448.36" stroke="#000" stroke-width="1.3"/>
<rect x="431.75" y="457.84" width="25.10" height="103.16" fill="#fff" stroke="#000" stroke-width="1.3"/>
<line x1="487.10" y1="479.96" x2="487.10" y2="473.84" stroke="#000" stroke-width="1.3"/>
<line x1="484.80" y1="473.84" x2="489.40" y2="473.84" stroke="#000" stroke-width="1.3"/>
<rect x="474.55" y="480.61" width="25.10" height="80.39" fill="#fff" stroke="#000" stroke-width="1.3"/>
<text transform="translate(359.60,577.20) scale(1,0.96)" font-size="11.8" text-anchor="middle" font-weight="normal" font-style="normal" fill="#1a1a1a" >Basal</text>
<text transform="translate(400.80,577.20) scale(1,0.96)" font-size="11.8" text-anchor="middle" font-weight="normal" font-style="normal" fill="#1a1a1a" >Clamp</text>
<text transform="translate(445.40,577.20) scale(1,0.96)" font-size="11.8" text-anchor="middle" font-weight="normal" font-style="normal" fill="#1a1a1a" >Basal</text>
<text transform="translate(487.10,577.20) scale(1,0.96)" font-size="11.8" text-anchor="middle" font-weight="normal" font-style="normal" fill="#1a1a1a" >Clamp</text>
<line x1="357.90" y1="450.00" x2="400.40" y2="450.00" stroke="#000" stroke-width="1.3"/>
<text transform="translate(379.00,446.80) scale(1,1.07)" font-size="9.3" text-anchor="middle" fill="#1a1a1a"><tspan font-style="italic">p</tspan> &lt; 0.001</text>
<line x1="358.50" y1="430.20" x2="437.90" y2="430.20" stroke="#000" stroke-width="1.3"/>
<text transform="translate(396.90,427.00) scale(1,1.07)" font-size="9.3" text-anchor="middle" fill="#1a1a1a"><tspan font-style="italic">p</tspan> = 0.51</text>
<line x1="444.60" y1="440.40" x2="483.70" y2="440.40" stroke="#000" stroke-width="1.3"/>
<text transform="translate(464.90,437.00) scale(1,1.07)" font-size="9.3" text-anchor="middle" fill="#1a1a1a"><tspan font-style="italic">p</tspan> = 0.003</text>
<line x1="407.70" y1="413.80" x2="486.90" y2="413.80" stroke="#000" stroke-width="1.3"/>
<text transform="translate(447.40,410.70) scale(1,1.07)" font-size="9.3" text-anchor="middle" fill="#1a1a1a"><tspan font-style="italic">p</tspan> = 0.02</text>
<text transform="translate(279.30,492.40) rotate(-90) scale(1,1.07)" x="0" y="0" font-size="11.8" text-anchor="middle" fill="#1a1a1a">VLDL-TG/VLDL-ApoB-100 ratio</text>
<text transform="translate(293.00,492.20) rotate(-90) scale(1,1.07)" x="0" y="0" font-size="11.9" text-anchor="middle" fill="#1a1a1a">(µmol/mg)</text>
</g>
</svg>
</body></html>
